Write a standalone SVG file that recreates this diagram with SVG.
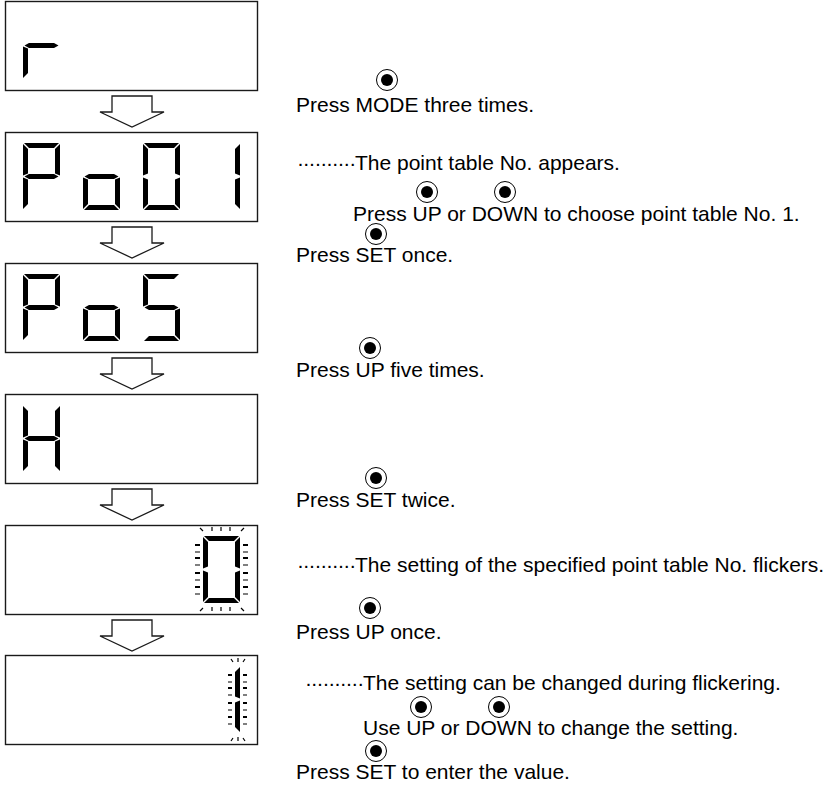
<svg xmlns="http://www.w3.org/2000/svg" xmlns:xlink="http://www.w3.org/1999/xlink" width="833" height="787" viewBox="0 0 833 787">
<style>
.box{fill:#fff;stroke:#1a1a1a;stroke-width:1.4}
.seg{fill:#000}
.arr{fill:#fff;stroke:#1a1a1a;stroke-width:1.3;stroke-linejoin:miter}
.t{font-family:"Liberation Sans",Arial,sans-serif;font-size:21px;fill:#000}
.dots{letter-spacing:-1.2px}
.fk{stroke:#000;stroke-width:1.2;fill:none}
.fk2{stroke:#000;stroke-width:2.2;fill:none}
</style>
<defs>
<polygon id="sa" class="seg" points="1,0 36,0 31,5 6,5"/>
<polygon id="sb" class="seg" points="37,1 37,32.5 32,30.5 32,6"/>
<polygon id="sc" class="seg" points="37,34.5 37,66 32,61 32,36.5"/>
<polygon id="sd" class="seg" points="6,62 31,62 36,67 1,67"/>
<polygon id="se" class="seg" points="0,34.5 5,36.5 5,61 0,66"/>
<polygon id="sf" class="seg" points="0,1 5,6 5,30.5 0,32.5"/>
<polygon id="sg" class="seg" points="1.5,33.5 6,31 31,31 35.5,33.5 31,36 6,36"/>
<g id="dr"><use href="#se"/><use href="#sg"/></g>
<g id="dP"><use href="#sa"/><use href="#sb"/><use href="#se"/><use href="#sf"/><use href="#sg"/></g>
<g id="do"><use href="#sc"/><use href="#sd"/><use href="#se"/><use href="#sg"/></g>
<g id="d0"><use href="#sa"/><use href="#sb"/><use href="#sc"/><use href="#sd"/><use href="#se"/><use href="#sf"/></g>
<g id="d1"><use href="#sb"/><use href="#sc"/></g>
<g id="dS"><use href="#sa"/><use href="#sf"/><use href="#sg"/><use href="#sc"/><use href="#sd"/></g>
<g id="dH"><use href="#sb"/><use href="#sc"/><use href="#se"/><use href="#sf"/><use href="#sg"/></g>
<g id="btn"><circle r="10.5" fill="#fff" stroke="#000" stroke-width="1"/><circle r="6" fill="#000"/></g>
<polygon id="arrow" class="arr" points="112,0 152,0 152,16 164,16 132,31 100,16 112,16"/>
</defs>

<g id="node1">
<rect class="box" x="5.5" y="1.5" width="252" height="89"/>
<use href="#dr" transform="translate(23,12)"/>
</g>
<g id="node2">
<rect class="box" x="5.5" y="132.5" width="252" height="89"/>
<use href="#dP" transform="translate(23,143)"/>
<use href="#do" transform="translate(83,143)"/>
<use href="#d0" transform="translate(143,143)"/>
<use href="#d1" transform="translate(203,143)"/>
</g>
<g id="node3">
<rect class="box" x="5.5" y="263.5" width="252" height="89"/>
<use href="#dP" transform="translate(23,274)"/>
<use href="#do" transform="translate(83,274)"/>
<use href="#dS" transform="translate(143,274)"/>
</g>
<g id="node4">
<rect class="box" x="5.5" y="394.5" width="252" height="89"/>
<use href="#dH" transform="translate(23,405)"/>
</g>
<g id="node5">
<rect class="box" x="5.5" y="525.5" width="252" height="89"/>
<use href="#d0" transform="translate(203,536)"/>
<g class="fk2"><path d="M195,545h5M195,558h5M195,573h5M195,587h5M243,545h5M243,558h5M243,573h5M243,587h5"/></g>
<g class="fk"><path d="M195,552h5M195,565h5M195,580h5M195,594h5M243,552h5M243,565h5M243,580h5M243,594h5"/>
<path d="M212,527v4M221,527v4M230,527v4M212,607v4M221,607v4M230,607v4"/>
<path d="M200,528l3,3M244,528l-3,3M200,611l3,-3M244,611l-3,-3"/></g>
</g>
<g id="node6">
<rect class="box" x="5.5" y="655.5" width="252" height="89"/>
<use href="#d1" transform="translate(203,666)"/>
<g class="fk2"><path d="M228,675h4M228,688h4M228,703h4M228,717h4M243,675h4M243,688h4M243,703h4M243,717h4"/></g>
<g class="fk"><path d="M228,682h4M228,695h4M228,710h4M228,724h4M243,682h4M243,695h4M243,710h4M243,724h4"/>
<path d="M238,658v4M238,737v4M231,659l2,3M245,659l-2,3M231,741l2,-3M245,741l-2,-3"/></g>
</g>

<g id="connectors">
<use href="#arrow" transform="translate(0,96)"/>
<use href="#arrow" transform="translate(0,227)"/>
<use href="#arrow" transform="translate(0,358)"/>
<use href="#arrow" transform="translate(0,489)"/>
<use href="#arrow" transform="translate(0,620)"/>
</g>

<g id="labels">
<use href="#btn" x="387" y="80"/>
<text class="t" x="296" y="112">Press MODE three times.</text>
<text class="t" x="297" y="170"><tspan class="dots">··········</tspan>The point table No. appears.</text>
<use href="#btn" x="427" y="192"/>
<use href="#btn" x="505" y="192"/>
<text class="t" x="353" y="221">Press UP or DOWN to choose point table No. 1.</text>
<use href="#btn" x="376" y="234"/>
<text class="t" x="296" y="262">Press SET once.</text>
<use href="#btn" x="370" y="348"/>
<text class="t" x="296" y="377">Press UP five times.</text>
<use href="#btn" x="376" y="478"/>
<text class="t" x="296" y="507">Press SET twice.</text>
<text class="t" x="297" y="572"><tspan class="dots">··········</tspan>The setting of the specified point table No. flickers.</text>
<use href="#btn" x="370" y="608"/>
<text class="t" x="296" y="639">Press UP once.</text>
<text class="t" x="305" y="690"><tspan class="dots">··········</tspan>The setting can be changed during flickering.</text>
<use href="#btn" x="421" y="707"/>
<use href="#btn" x="499" y="707"/>
<text class="t" x="363" y="735">Use UP or DOWN to change the setting.</text>
<use href="#btn" x="376" y="751"/>
<text class="t" x="296" y="779">Press SET to enter the value.</text>
</g>
</svg>
